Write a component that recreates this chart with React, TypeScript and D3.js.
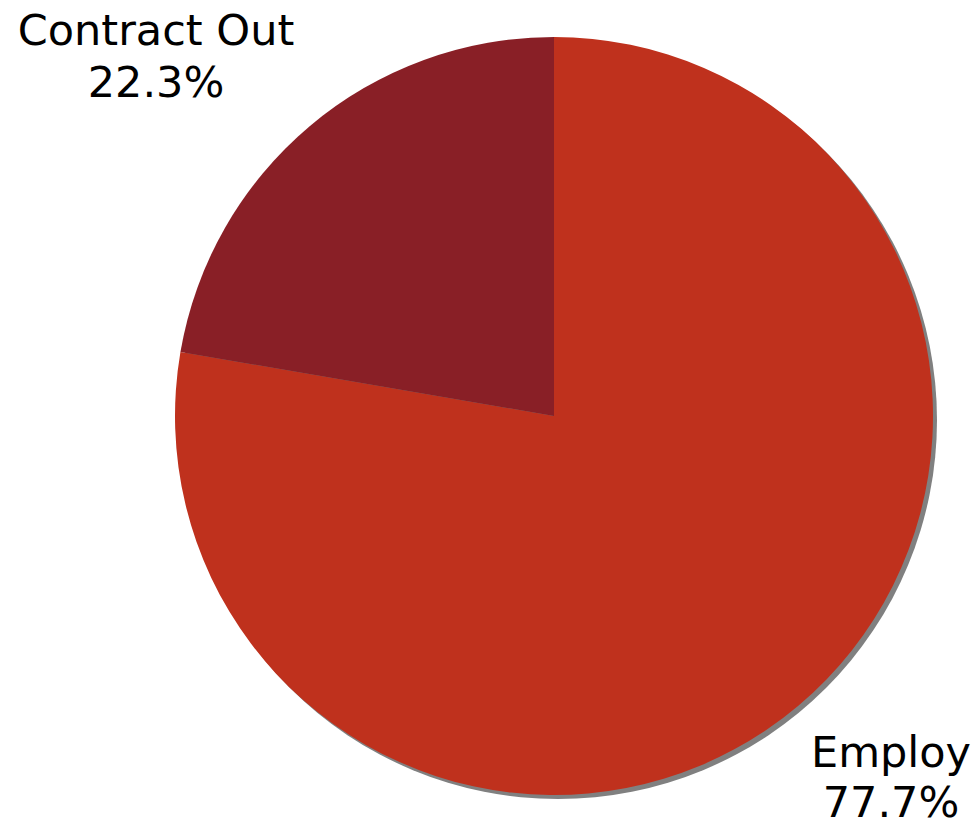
import React from "react";
import * as d3 from "d3";

const categories = ["Employ", "Contract Out"];
const values = [77.7, 22.3];
const colors = ["#BF311D", "#891F26"];

const W = 977;
const H = 825;
const cx = 554;
const cy = 416;
const R = 379;

export default function App() {
  const pie = d3
    .pie<number>()
    .sort(null)
    .startAngle(0)
    .endAngle(2 * Math.PI);
  const arcs = pie(values);
  const arc = d3.arc<d3.PieArcDatum<number>>().innerRadius(0).outerRadius(R);

  const labelPos = [
    { x: 891, y1: 767, y2: 817 },
    { x: 156, y1: 45, y2: 97 },
  ];

  return (
    <svg
      width={W}
      height={H}
      style={{ position: "absolute", left: 0, top: 0 }}
      fontFamily="DejaVu Sans, Verdana, sans-serif"
    >
      <rect width={W} height={H} fill="#fff" />
      <circle cx={cx + 4} cy={cy + 4} r={R} fill="#808080" />
      <g transform={`translate(${cx},${cy})`}>
        {arcs.map((a, i) => (
          <path key={categories[i]} d={arc(a) || ""} fill={colors[i]} />
        ))}
      </g>
      {categories.map((c, i) => (
        <text key={c} textAnchor="middle" fontSize={43} fill="#000">
          <tspan x={labelPos[i].x} y={labelPos[i].y1}>
            {c}
          </tspan>
          <tspan x={labelPos[i].x} y={labelPos[i].y2}>
            {values[i].toFixed(1) + "%"}
          </tspan>
        </text>
      ))}
    </svg>
  );
}
